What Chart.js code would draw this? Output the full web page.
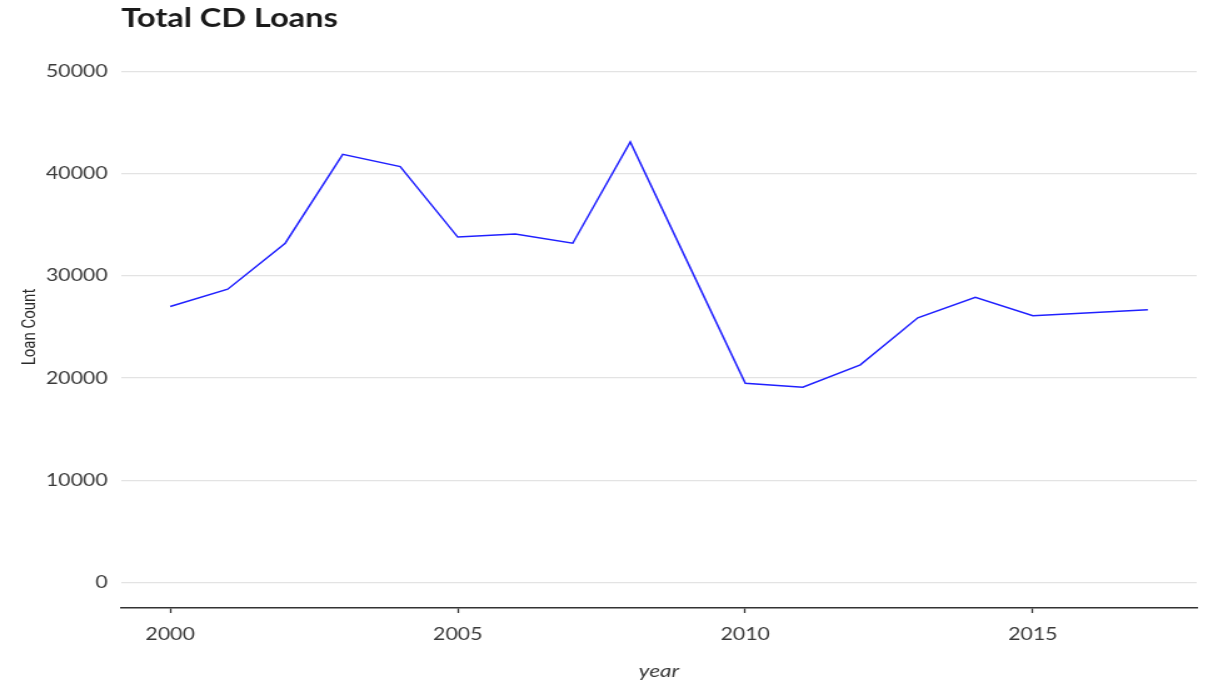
<!DOCTYPE html>
<html lang="en">
<head>
    <meta charset="UTF-8">
    <title>Total CD Loans</title>
    <script src="https://cdn.jsdelivr.net/npm/chart.js"></script>
    <style>
        html, body { margin: 0; padding: 0; background: #ffffff; overflow: hidden; }
        /* the reference is a plot stretched sideways, so draw narrow and stretch */
        #wrap { width: 966px; height: 685px; transform: scale(1.2505, 1); transform-origin: 0 0; }
    </style>
</head>
<body>
    <div id="wrap">
        <canvas id="loansChart" width="966" height="685"></canvas>
    </div>

    <script>
        // values
        const years = [2000, 2001, 2002, 2003, 2004, 2005, 2006, 2007, 2008,
                       2009, 2010, 2011, 2012, 2013, 2014, 2015, 2016, 2017];
        const loanCounts = [27000, 28700, 33200, 41900, 40700, 33800, 34100, 33200, 43100,
                            31300, 19500, 19100, 21300, 25900, 27900, 26100, 26400, 26700];
        const xTicks = [2000, 2005, 2010, 2015];
        const yTicks = [0, 10000, 20000, 30000, 40000, 50000];

        const chartTitle = 'Total CD Loans';
        const xTitle = 'year';
        const yTitle = 'Loan Count';

        // draws the plot title aligned with the left edge of the plot panel
        const titlePlugin = {
            id: 'panelTitle',
            afterDraw(chart) {
                const ctx = chart.ctx;
                ctx.save();
                ctx.font = 'bold 26px Lato';
                ctx.fillStyle = '#1a1a1a';
                ctx.textAlign = 'left';
                ctx.textBaseline = 'alphabetic';
                ctx.fillText(chartTitle, chart.chartArea.left, 27);
                ctx.restore();
            }
        };

        const ctx = document.getElementById('loansChart').getContext('2d');
        new Chart(ctx, {
            type: 'line',
            data: {
                datasets: [{
                    label: yTitle,
                    data: years.map((yr, i) => ({ x: yr, y: loanCounts[i] })),
                    borderColor: '#2020ff',
                    borderWidth: 1.5,
                    pointRadius: 0,
                    tension: 0,
                    fill: false
                }]
            },
            plugins: [titlePlugin],
            options: {
                responsive: false,
                animation: false,
                layout: { padding: { top: 46, right: 9, bottom: 0, left: 0 } },
                plugins: {
                    legend: { display: false },
                    tooltip: { enabled: false },
                    title: { display: false }
                },
                scales: {
                    x: {
                        type: 'linear',
                        min: 1999.15,
                        max: 2017.85,
                        afterBuildTicks: scale => { scale.ticks = xTicks.map(v => ({ value: v })); },
                        afterFit: scale => { scale.height = 77; },
                        grid: {
                            drawOnChartArea: false,
                            drawTicks: true,
                            tickLength: 5,
                            tickColor: '#333333',
                            tickWidth: 1.3
                        },
                        border: { display: true, color: '#333333', width: 1.5 },
                        ticks: {
                            padding: 11,
                            color: '#3a3a3a',
                            font: { family: 'Lato', size: 17 },
                            maxRotation: 0,
                            callback: v => String(v)
                        },
                        title: {
                            display: true,
                            text: xTitle,
                            color: '#3a3a3a',
                            font: { family: 'Lato', size: 18, style: 'italic' },
                            padding: { top: 17, bottom: 3 }
                        }
                    },
                    y: {
                        min: -2500,
                        max: 52500,
                        afterBuildTicks: scale => { scale.ticks = yTicks.map(v => ({ value: v })); },
                        afterFit: scale => { scale.width = 97; },
                        grid: {
                            color: '#e3e3e3',
                            lineWidth: 1.3,
                            drawTicks: false
                        },
                        border: { display: false },
                        ticks: {
                            padding: 11,
                            color: '#3a3a3a',
                            font: { family: 'Lato', size: 17 },
                            callback: v => String(v)
                        },
                        title: {
                            display: true,
                            text: yTitle,
                            color: '#2a2a2a',
                            font: { family: 'Roboto', size: 15 },
                            padding: { top: 15, bottom: 0 }
                        }
                    }
                }
            }
        });
    </script>
</body>
</html>
